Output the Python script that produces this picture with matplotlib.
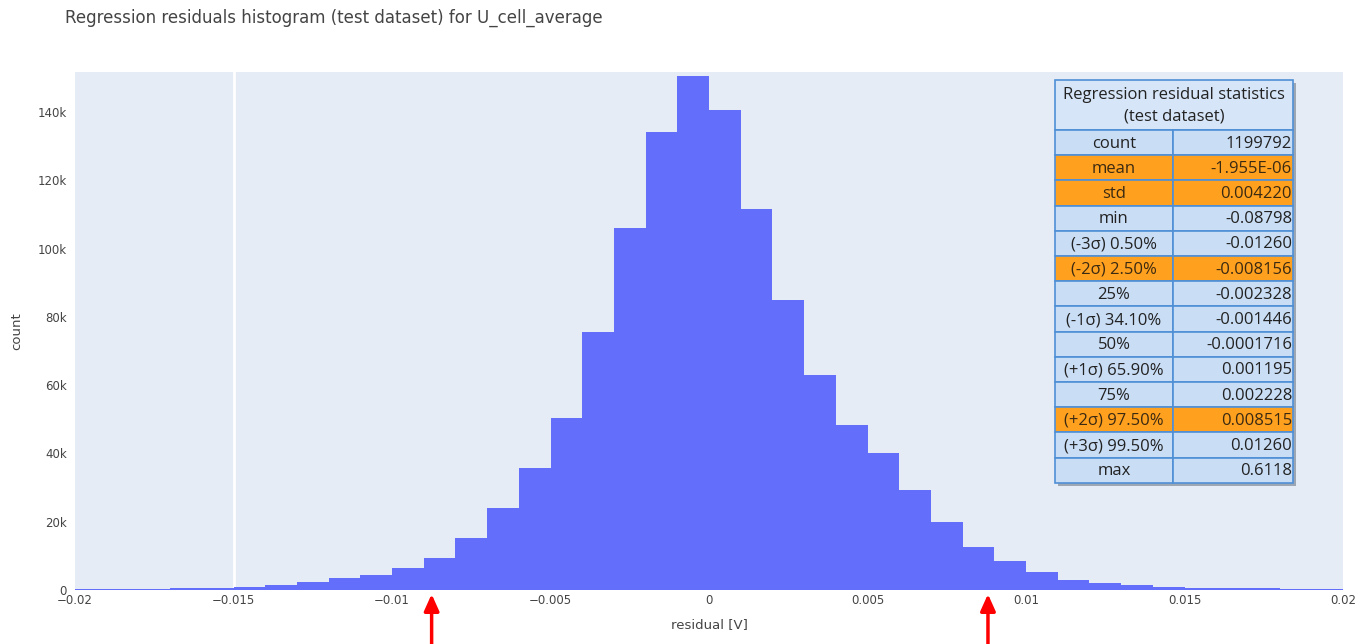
import matplotlib
matplotlib.use("Agg")
import matplotlib.pyplot as plt
import numpy as np
from matplotlib.patches import Rectangle
from matplotlib.ticker import FuncFormatter

# histogram of residuals, bins 0.001 V wide from -0.02 to 0.02
bin_edges = np.round(np.arange(-20, 21) * 0.001, 3)
counts_k = [
    0.3, 0.35, 0.4, 0.5, 0.6, 0.8, 1.4, 2.3, 3.6, 4.3,
    6.4, 9.3, 15.1, 24.1, 35.8, 50.5, 75.5, 106.1, 134.1, 150.5,
    140.6, 111.7, 84.8, 62.9, 48.2, 40.2, 29.2, 19.9, 12.6, 8.4,
    5.2, 3.0, 2.0, 1.4, 0.9, 0.6, 0.5, 0.45, 0.4, 0.35,
]
counts = np.array(counts_k) * 1000

x_ticks = [-0.02, -0.015, -0.01, -0.005, 0, 0.005, 0.01, 0.015, 0.02]
y_ticks = [0, 20000, 40000, 60000, 80000, 100000, 120000, 140000]
arrow_x = [-0.00875, 0.0088]

stat_labels = ["count", "mean", "std", "min", "(-3σ) 0.50%", "(-2σ) 2.50%", "25%",
               "(-1σ) 34.10%", "50%", "(+1σ) 65.90%", "75%", "(+2σ) 97.50%",
               "(+3σ) 99.50%", "max"]
stat_values = ["1199792", "-1.955E-06", "0.004220", "-0.08798", "-0.01260", "-0.008156",
               "-0.002328", "-0.001446", "-0.0001716", "0.001195", "0.002228", "0.008515",
               "0.01260", "0.6118"]
highlight = ["mean", "std", "(-2σ) 2.50%", "(+2σ) 97.50%"]

W, H = 1372, 644
fig = plt.figure(figsize=(W / 100, H / 100), dpi=100)
fig.patch.set_facecolor("white")

ax = fig.add_axes([75 / W, (H - 590) / H, 1268 / W, 518 / H])
ax.set_facecolor("#E5ECF6")
ax.stairs(counts, bin_edges, fill=True, color="#636EFA", linewidth=0)
ax.axvline(-0.015, color="white", lw=2, zorder=0.5)

ax.set_xlim(-0.02, 0.02)
ax.set_ylim(0, 151700)
ax.set_xticks(x_ticks)
ax.set_xticklabels(["\u22120.02", "\u22120.015", "\u22120.01", "\u22120.005", "0",
                    "0.005", "0.01", "0.015", "0.02"])
ax.set_yticks(y_ticks)
ax.yaxis.set_major_formatter(FuncFormatter(lambda v, p: "0" if v == 0 else f"{int(v / 1000)}k"))
ax.tick_params(length=0, labelsize=8.5, colors="#444444", pad=6)
ax.tick_params(axis="x", pad=3)
for s in ax.spines.values():
    s.set_visible(False)

ax.set_xlabel("residual [V]", fontsize=9.5, color="#444444")
ax.set_ylabel("count", fontsize=9.5, color="#444444")
ax.xaxis.set_label_coords(0.5, -28 / 518)
ax.yaxis.set_label_coords(-52 / 1268, 0.5)
fig.text(65 / W, 1 - 18 / H, "Regression residuals histogram (test dataset) for U_cell_average",
         fontsize=12, color="#444444", va="center", ha="left")

# red arrows under the axis
for xa in arrow_x:
    ax.annotate("", xy=(xa, -0.008), xytext=(xa, -0.105),
                xycoords=("data", "axes fraction"), textcoords=("data", "axes fraction"),
                arrowprops=dict(arrowstyle="-|>,head_length=1.0,head_width=0.45",
                                color="red", lw=2.5, shrinkA=0, shrinkB=0),
                annotation_clip=False)

# statistics table overlay, drawn in pixel coordinates
tax = fig.add_axes([0, 0, 1, 1], zorder=5)
tax.set_xlim(0, W)
tax.set_ylim(H, 0)
tax.axis("off")

x0, x1, x2 = 1055, 1173, 1293
y0, head_h, row_h = 80, 50, 25.2
n = len(stat_labels)
y_end = y0 + head_h + n * row_h
tax.add_patch(Rectangle((x0 + 3, y0 + 3), x2 - x0, y_end - y0, color="#7f8a99", alpha=0.7, lw=0))
border = "#4F8FD6"
light = "#C9DDF5"
orange = "#FFA11F"
tax.add_patch(Rectangle((x0, y0), x2 - x0, head_h, facecolor="#D6E5F7", edgecolor=border, lw=1.2))
tax.text((x0 + x2) / 2, y0 + head_h / 2 + 1, "Regression residual statistics\n(test dataset)",
         ha="center", va="center", fontsize=12, family="Open Sans", color="#222222",
         linespacing=1.45)
for i, (lab, val) in enumerate(zip(stat_labels, stat_values)):
    y = y0 + head_h + i * row_h
    fc = orange if lab in highlight else light
    tc = "#3b2a12" if lab in highlight else "#222222"
    tax.add_patch(Rectangle((x0, y), x1 - x0, row_h, facecolor=fc, edgecolor=border, lw=1.2))
    tax.add_patch(Rectangle((x1, y), x2 - x1, row_h, facecolor=fc, edgecolor=border, lw=1.2))
    tax.text((x0 + x1) / 2, y + row_h / 2 + 1, lab, ha="center", va="center",
             fontsize=12, family="Open Sans", color=tc)
    tax.text(x2 - 1, y + row_h / 2 + 1, val, ha="right", va="center",
             fontsize=12, family="Open Sans", color=tc)

fig.savefig("out.png", dpi=100)
